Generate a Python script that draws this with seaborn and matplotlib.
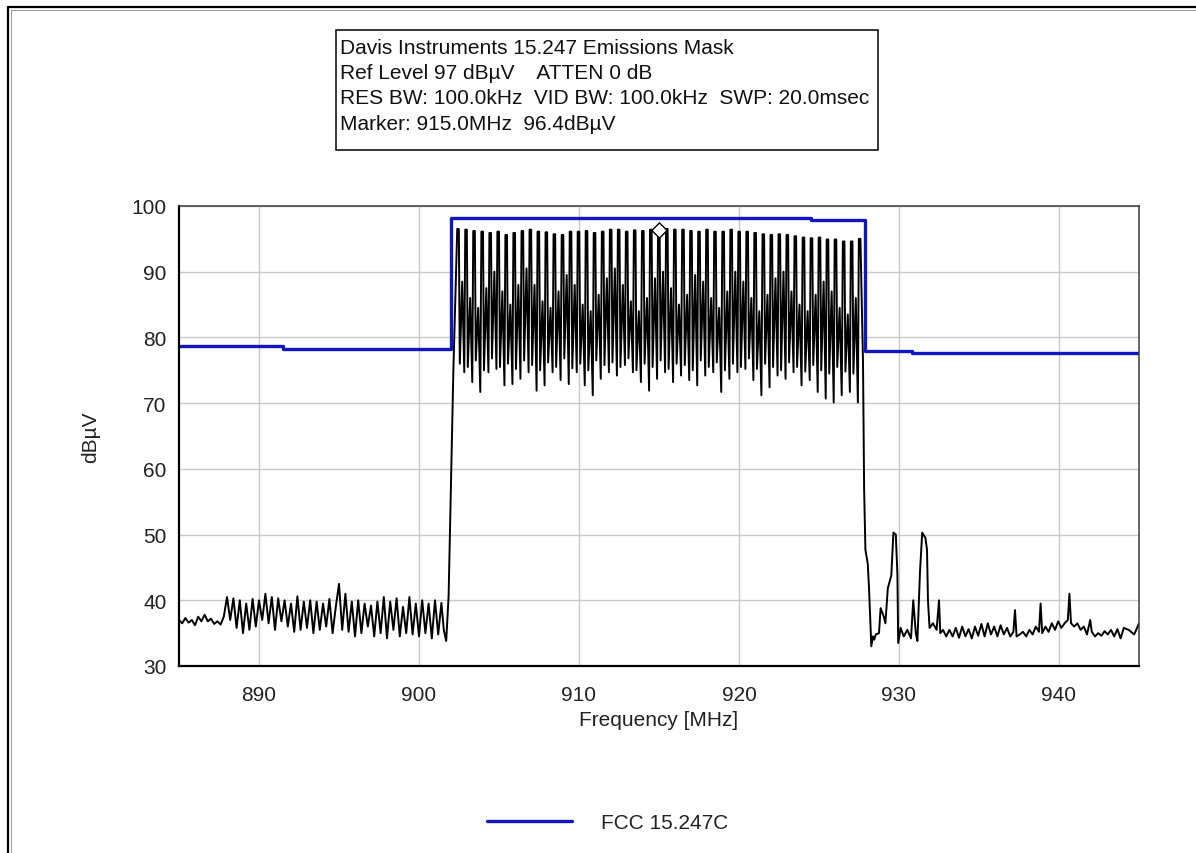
import numpy as np
import pandas as pd
import matplotlib
matplotlib.use("Agg")
import matplotlib.pyplot as plt
import seaborn as sns
from matplotlib.lines import Line2D
from matplotlib.patches import Rectangle
from matplotlib.ticker import MultipleLocator

# ---------------- data ----------------
# FCC 15.247C emissions mask (step levels)
mask_freq = [885.0, 891.5, 902.0, 924.5, 927.9, 930.8, 945.0]
mask_level = [78.7, 78.3, 98.2, 97.9, 78.0, 77.7, 77.7]

# Noise floor below the band (sweep samples)
left_freq = [885.0, 885.2, 885.4, 885.6, 885.8, 886.0, 886.2, 886.4, 886.6, 886.8,
             887.0, 887.2, 887.4, 887.6, 887.8, 888.0, 888.2, 888.4, 888.6, 888.8,
             889.0, 889.2, 889.4, 889.6, 889.8, 890.0, 890.2, 890.4, 890.6, 890.8,
             891.0, 891.2, 891.4, 891.6, 891.8, 892.0, 892.2, 892.4, 892.6, 892.8,
             893.0, 893.2, 893.4, 893.6, 893.8, 894.0, 894.2, 894.4, 894.6, 894.8,
             895.0, 895.2, 895.4, 895.6, 895.8, 896.0, 896.2, 896.4, 896.6, 896.8,
             897.0, 897.2, 897.4, 897.6, 897.8, 898.0, 898.2, 898.4, 898.6, 898.8,
             899.0, 899.2, 899.4, 899.6, 899.8, 900.0, 900.2, 900.4, 900.6, 900.8,
             901.0, 901.2, 901.4, 901.55, 901.7, 901.85, 902.15]
left_level = [37.0, 36.5, 37.3, 36.6, 37.0, 36.2, 37.5, 36.8, 37.8, 36.8,
              37.2, 36.4, 36.8, 36.3, 37.5, 40.5, 37.0, 40.3, 35.8, 40.0,
              35.0, 39.5, 35.5, 40.2, 36.0, 40.0, 37.0, 41.0, 36.5, 40.5,
              35.5, 40.3, 36.8, 40.0, 36.0, 39.5, 35.2, 40.6, 35.5, 39.8,
              35.8, 40.0, 35.0, 39.8, 35.5, 39.5, 36.0, 40.2, 35.0, 39.0,
              42.5, 35.5, 41.0, 35.2, 39.8, 34.5, 40.0, 35.0, 39.5, 36.0,
              39.2, 34.5, 39.8, 35.0, 40.5, 34.2, 39.8, 35.5, 40.3, 34.5,
              39.0, 35.0, 40.5, 34.8, 39.5, 34.5, 40.0, 35.0, 39.5, 34.2,
              40.0, 34.8, 39.6, 35.5, 33.8, 40.6, 75.2]

# Hopping channels inside the band
chan_freq = [902.45, 902.95, 903.45, 903.96, 904.46, 904.96, 905.46, 905.96, 906.47, 906.97,
             907.47, 907.97, 908.47, 908.98, 909.48, 909.98, 910.48, 910.98, 911.49, 911.99,
             912.49, 912.99, 913.49, 914.00, 914.50, 915.00, 915.50, 916.00, 916.51, 917.01,
             917.51, 918.01, 918.51, 919.02, 919.52, 920.02, 920.52, 921.02, 921.53, 922.03,
             922.53, 923.03, 923.53, 924.04, 924.54, 925.04, 925.54, 926.04, 926.55, 927.05,
             927.55]
chan_peak = [96.5, 96.4, 96.2, 96.1, 95.9, 96.1, 95.6, 95.9, 96.2, 96.4,
             96.1, 96.0, 95.7, 95.6, 96.1, 96.1, 96.2, 95.9, 96.1, 96.4,
             96.4, 96.1, 96.3, 96.2, 96.4, 96.4, 96.5, 96.4, 96.4, 96.2,
             96.1, 96.4, 96.1, 96.1, 96.4, 96.1, 96.1, 95.9, 95.7, 95.6,
             95.7, 95.6, 95.4, 95.2, 95.1, 95.2, 94.9, 94.9, 94.6, 94.6,
             95.0]
# bottom of each channel's bar, the intermediate sweep sample, and the gap minimum
chan_dip = [76.0, 75.5, 76.5, 75.0, 76.8, 75.5, 76.0, 75.2, 76.5, 75.8,
            75.0, 76.2, 75.5, 76.8, 75.3, 76.0, 75.0, 76.5, 75.8, 76.2,
            75.5, 76.8, 75.0, 76.0, 75.5, 76.5, 75.2, 76.0, 75.8, 75.0,
            76.5, 75.5, 76.2, 75.0, 76.0, 75.5, 76.8, 75.2, 76.0, 75.5,
            75.0, 76.2, 75.5, 74.8, 75.8, 75.0, 74.5, 75.5, 74.8, 74.5]
chan_mid = [88.5, 86.0, 84.5, 87.5, 90.0, 87.0, 85.0, 88.0, 90.5, 88.0,
            85.5, 84.5, 87.0, 89.5, 88.0, 85.0, 84.0, 86.5, 89.0, 90.5,
            88.0, 85.5, 84.0, 86.0, 89.0, 90.0, 87.5, 85.0, 86.5, 89.5,
            88.5, 86.0, 84.5, 87.0, 90.0, 88.5, 86.0, 84.0, 86.5, 89.0,
            90.0, 87.0, 85.0, 84.0, 86.5, 88.5, 87.0, 84.5, 83.5, 86.0]
chan_trough = [74.7, 73.2, 71.7, 74.7, 75.2, 72.7, 72.9, 73.7, 74.7, 71.9,
               72.7, 74.7, 73.5, 72.9, 74.7, 72.7, 71.2, 73.7, 74.7, 74.2,
               75.8, 74.7, 73.2, 71.9, 73.7, 74.7, 73.2, 74.2, 73.5, 72.7,
               74.2, 74.7, 71.7, 73.7, 74.7, 75.2, 73.5, 71.2, 72.4, 74.2,
               73.7, 74.7, 72.7, 73.5, 71.7, 70.7, 70.1, 71.2, 71.7, 70.1]

# Noise floor above the band (sweep samples)
right_freq = [927.75, 927.82, 927.9, 928.05, 928.13, 928.27, 928.37, 928.45, 928.55, 928.75,
              928.85, 929.05, 929.15, 929.3, 929.52, 929.65, 929.8, 929.9, 929.95, 930.1,
              930.3, 930.52, 930.75, 930.89, 931.05, 931.15, 931.31, 931.45, 931.65, 931.75,
              931.81, 931.91, 932.12, 932.35, 932.5, 932.58, 932.75, 932.95, 933.15, 933.35,
              933.55, 933.75, 933.95, 934.15, 934.35, 934.55, 934.75, 934.95, 935.15, 935.35,
              935.55, 935.75, 935.95, 936.15, 936.35, 936.55, 936.75, 936.95, 937.15, 937.25,
              937.35, 937.55, 937.75, 937.95, 938.15, 938.35, 938.55, 938.75, 938.85, 938.95,
              939.15, 939.35, 939.55, 939.75, 939.95, 940.15, 940.35, 940.55, 940.65, 940.75,
              940.95, 941.15, 941.35, 941.55, 941.75, 941.95, 942.05, 942.25, 942.45, 942.65,
              942.85, 943.05, 943.25, 943.45, 943.65, 943.85, 944.05, 944.35, 944.7, 945.0]
right_level = [76.3, 57.0, 47.7, 45.5, 41.6, 33.0, 34.5, 34.0, 34.8, 35.0,
               38.8, 37.5, 36.5, 41.8, 43.8, 50.3, 50.0, 44.0, 33.5, 35.8,
               34.5, 35.5, 34.2, 40.0, 35.0, 33.8, 44.2, 50.3, 49.5, 47.7,
               40.0, 35.8, 36.5, 35.5, 40.0, 35.0, 35.5, 34.5, 35.5, 34.5,
               35.8, 34.3, 36.0, 34.5, 35.6, 34.2, 36.0, 34.6, 36.4, 34.5,
               36.5, 34.8, 36.0, 34.5, 36.2, 34.8, 35.8, 34.5, 35.2, 38.5,
               34.5, 34.8, 35.2, 34.5, 35.5, 34.8, 36.0, 35.2, 39.5, 35.0,
               36.0, 35.2, 36.5, 35.5, 36.8, 35.8, 36.5, 37.0, 41.0, 36.5,
               36.0, 36.5, 35.5, 36.0, 34.8, 37.0, 35.2, 34.5, 35.0, 34.6,
               35.3, 34.8, 35.5, 34.5, 35.6, 34.2, 35.8, 35.5, 34.8, 36.5]

marker_freq = [915.0]
marker_level = [96.4]

# ---------------- build the trace ----------------
tr_f = list(left_freq)
tr_v = list(left_level)
for i, f in enumerate(chan_freq):
    tr_f += [f - 0.06, f + 0.04]
    tr_v += [chan_peak[i], chan_peak[i]]
    if i < len(chan_trough):
        tr_f += [f + 0.10, f + 0.25, f + 0.38]
        tr_v += [chan_dip[i], chan_mid[i], chan_trough[i]]
tr_f += right_freq
tr_v += right_level
trace = pd.DataFrame({"freq": tr_f, "level": tr_v})
mask = pd.DataFrame({"freq": mask_freq, "level": mask_level})
mark = pd.DataFrame({"freq": marker_freq, "level": marker_level})

# ---------------- style ----------------
sns.set_theme(style="white")
plt.rcParams["font.family"] = ["Liberation Sans", "DejaVu Sans"]
plt.rcParams["axes.unicode_minus"] = False

FS = 15
W, H = 1196, 854
fig = plt.figure(figsize=(W / 100, H / 100), dpi=100)
fig.patch.set_facecolor("white")
ax = fig.add_axes([179 / W, 1 - 667 / H, 960 / W, 460 / H])

BLUE = "#1216c0"
sns.lineplot(data=trace, x="freq", y="level", ax=ax, color="black", lw=1.4,
             estimator=None, sort=False, legend=False)
sns.lineplot(data=mask, x="freq", y="level", ax=ax, color=BLUE, lw=2.4,
             estimator=None, sort=False, drawstyle="steps-post", label="FCC 15.247C")
sns.scatterplot(data=mark, x="freq", y="level", ax=ax, marker="D", s=60,
                facecolor="white", edgecolor="black", linewidth=1.0, zorder=5, legend=False)

ax.set_xlim(885, 945)
ax.set_ylim(30, 100)
ax.xaxis.set_major_locator(MultipleLocator(10))
ax.xaxis.set_minor_locator(MultipleLocator(5))
ax.yaxis.set_major_locator(MultipleLocator(10))
ax.yaxis.set_minor_locator(MultipleLocator(5))
ax.grid(True, which="major", color="#c8c8c8", lw=1.0)
ax.set_axisbelow(True)
ax.tick_params(which="both", direction="inout", length=8, width=1.2, color="black",
               labelsize=FS, labelcolor="#222222")
ax.tick_params(axis="x", which="major", pad=10)
ax.tick_params(axis="y", which="major", pad=5)

for s in ["left", "bottom"]:
    ax.spines[s].set_color("black")
    ax.spines[s].set_linewidth(1.6)
for s in ["top", "right"]:
    ax.spines[s].set_color("#3a3a3a")
    ax.spines[s].set_linewidth(1.1)

ax.set_xlabel("Frequency [MHz]", fontsize=FS, color="#222222")
ax.set_ylabel("dBµV", fontsize=FS, color="#222222")
ax.xaxis.set_label_coords(0.5, -0.095)
ax.yaxis.set_label_coords(-0.082, 0.5)

# legend below the plot
leg = ax.legend(loc="center left", bbox_to_anchor=(487 / W, 1 - 824 / H),
                bbox_transform=fig.transFigure, frameon=False, fontsize=FS,
                handlelength=4.1, handletextpad=1.35, borderpad=0, borderaxespad=0)
for t in leg.get_texts():
    t.set_color("#222222")

# title / settings box
fig.add_artist(Rectangle((336 / W, 1 - 151 / H), 542 / W, 120 / H, transform=fig.transFigure,
                         facecolor="white", edgecolor="black", lw=1.1))
box_lines = ["Davis Instruments 15.247 Emissions Mask",
             "Ref Level 97 dBµV    ATTEN 0 dB",
             "RES BW: 100.0kHz  VID BW: 100.0kHz  SWP: 20.0msec",
             "Marker: 915.0MHz  96.4dBµV"]
for k, line in enumerate(box_lines):
    fig.text(340 / W, 1 - (48 + 25.5 * k) / H, line, fontsize=FS, color="#111111",
             ha="left", va="center")

# window frame lines (top / left)
fig.add_artist(Line2D([8 / W, 8 / W], [0, 1 - 8 / H], transform=fig.transFigure,
                      color="black", lw=1.6))
fig.add_artist(Line2D([8 / W, 1], [1 - 8 / H, 1 - 8 / H], transform=fig.transFigure,
                      color="black", lw=1.6))
fig.add_artist(Line2D([10.5 / W, 10.5 / W], [0, 1 - 10.5 / H], transform=fig.transFigure,
                      color="#a0a0a0", lw=0.8))
fig.add_artist(Line2D([10.5 / W, 1], [1 - 10.5 / H, 1 - 10.5 / H], transform=fig.transFigure,
                      color="#a0a0a0", lw=0.8))

fig.savefig("out.png", dpi=100, facecolor="white")
